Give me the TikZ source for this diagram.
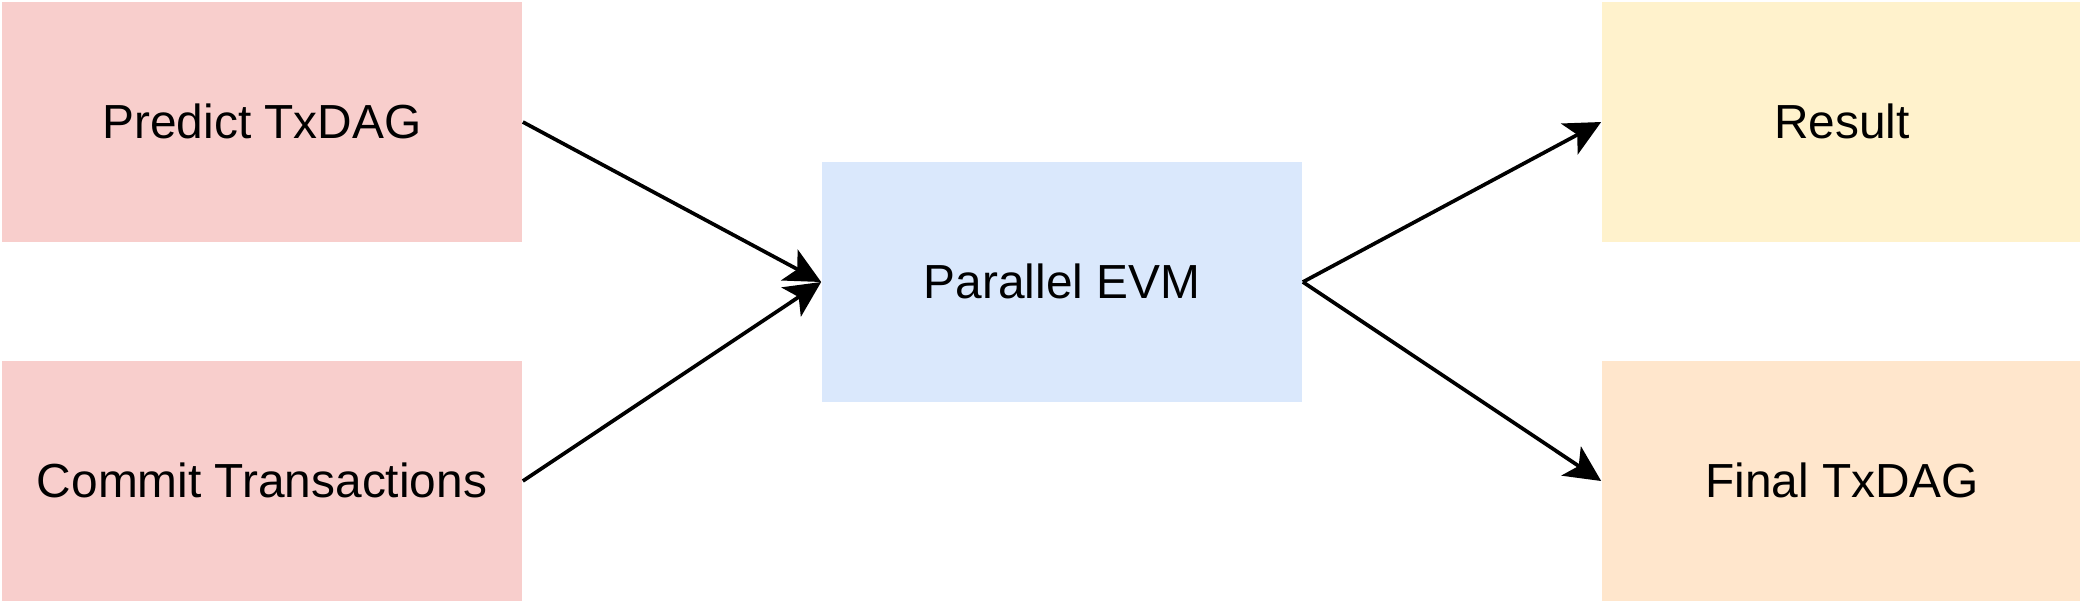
\documentclass[tikz,border=0pt]{standalone}
\usepackage{fontspec}
\setmainfont{Liberation Sans}
\usetikzlibrary{arrows.meta}
\definecolor{pinkfill}{HTML}{F8CECC}
\definecolor{bluefill}{HTML}{DAE8FC}
\definecolor{yellowfill}{HTML}{FFF2CC}
\definecolor{orangefill}{HTML}{FFE6CC}
\begin{document}
\begin{tikzpicture}[x=0.01cm,y=-0.01cm,
  boxstyle/.style={draw=none,minimum width=5.2cm,minimum height=2.4cm,inner sep=0pt,
    font=\fontsize{13.6}{16}\selectfont},
  smallbox/.style={boxstyle,minimum width=4.8cm},
  conn/.style={line width=1.05pt,-{Stealth[length=0.36cm,width=0.35cm,inset=0.09cm]}}]
\useasboundingbox[fill=white] (0,0) rectangle (2080,600);
\node[boxstyle,fill=pinkfill] (pred) at (262,122) {\raisebox{0.6pt}{Predict TxDAG}};
\node[boxstyle,fill=pinkfill] (commit) at (262,481) {\raisebox{0.6pt}{Commit Transactions}};
\node[smallbox,fill=bluefill] (pevm) at (1062,282) {\raisebox{0.6pt}{Parallel EVM}};
\node[smallbox,fill=yellowfill] (res) at (1842,122) {\raisebox{0.6pt}{Result}};
\node[smallbox,fill=orangefill] (fin) at (1842,481) {\raisebox{0.6pt}{Final TxDAG}};
\draw[conn] (pred.east) -- (pevm.west);
\draw[conn] (commit.east) -- (pevm.west);
\draw[conn] (pevm.east) -- (res.west);
\draw[conn] (pevm.east) -- (fin.west);
\end{tikzpicture}
\end{document}
